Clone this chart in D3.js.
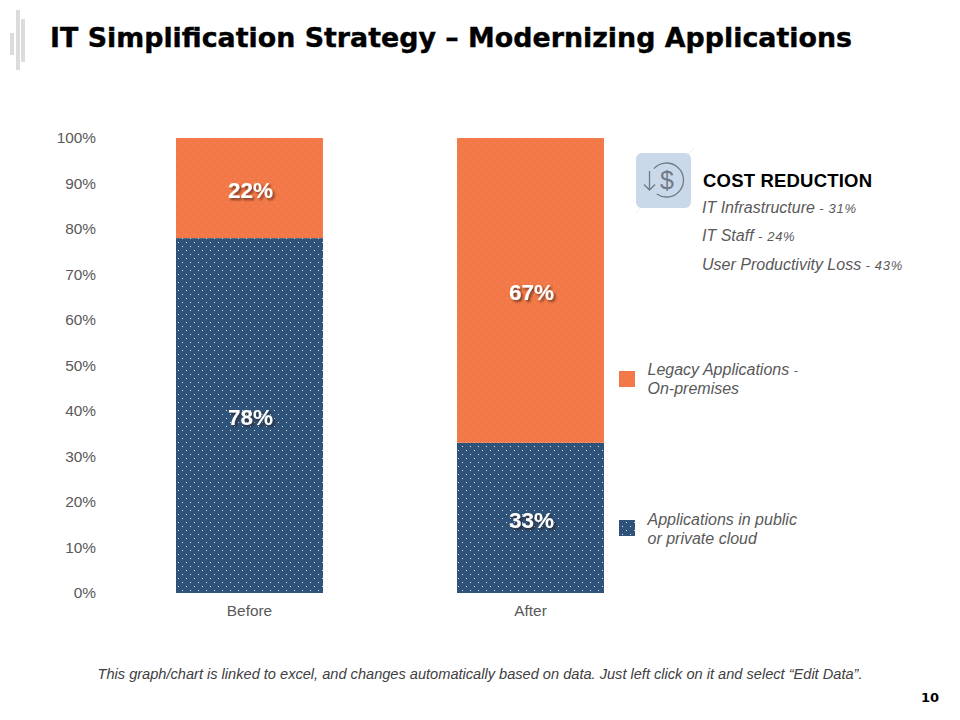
<!DOCTYPE html>
<html><head><meta charset="utf-8">
<script src="https://cdn.jsdelivr.net/npm/d3@7"></script>
<style>
html,body{margin:0;padding:0;background:#fff}
svg{display:block}
text{font-family:"Liberation Sans",Arial,sans-serif}
</style></head><body>
<svg id="c" width="960" height="720"></svg>
<script>
const titleText = "IT Simplification Strategy – Modernizing Applications";
const categories = ["Before","After"];
const cloudValues = [78,33];
const legacyValues = [22,67];
const yTicks = [0,10,20,30,40,50,60,70,80,90,100];
const legendLabels = [[["Legacy Applications ","- "],["On-premises",""]],[["Applications in public",""],["or private cloud",""]]];
const costHeading = "COST REDUCTION";
const costItems = [["IT Infrastructure"," - 31%"],["IT Staff"," - 24%"],["User Productivity Loss"," - 43%"]];
const footnote = "This graph/chart is linked to excel, and changes automatically based on data. Just left click on it and select “Edit Data”.";
const pageNumber = "10";

const ORANGE="#f27947", BLUE="#2e5278";
const svg=d3.select("#c");
const defs=svg.append("defs");
function pat(id,fill,op){
  const p=defs.append("pattern").attr("id",id).attr("width",8).attr("height",8).attr("patternUnits","userSpaceOnUse");
  p.append("rect").attr("width",8).attr("height",8).attr("fill",fill);
  [[2,2],[6,6]].forEach(c=>p.append("rect").attr("x",c[0]).attr("y",c[1]).attr("width",1).attr("height",1).attr("fill","#fff").attr("opacity",op));
}
pat("pBlue",BLUE,.85); pat("pOrange",ORANGE,.2);
const sh=defs.append("filter").attr("id","sh").attr("x","-20%").attr("y","-20%").attr("width","150%").attr("height","150%");
sh.append("feDropShadow").attr("dx",2).attr("dy",2).attr("stdDeviation",.8).attr("flood-color","#2a1408").attr("flood-opacity",.6);

// header decoration
[[10,33,4,22],[16,10,4,60],[21,19,4,43]].forEach(d=>svg.append("rect").attr("x",d[0]).attr("y",d[1]).attr("width",d[2]).attr("height",d[3]).attr("fill","#dcdcdc"));
svg.append("text").attr("x",50).attr("y",47).attr("font-size",27).attr("font-weight","bold").attr("fill","#000")
  .attr("stroke","#000").attr("stroke-width",.4)
  .style("font-family","'DejaVu Sans'").attr("textLength",802).attr("lengthAdjust","spacingAndGlyphs").text(titleText);

const x=d3.scaleBand().domain(categories).range([109,671]).paddingInner(.477).paddingOuter(.2385);
const y=d3.scaleLinear().domain([0,100]).range([593,138]);

const yAxis=d3.axisLeft(y).tickValues(yTicks).tickFormat(d=>d+"%").tickSize(0).tickPadding(0);
const gy=svg.append("g").attr("transform","translate(96,0)").call(yAxis);
const xAxis=d3.axisBottom(x).tickSize(0).tickPadding(0);
const gx=svg.append("g").attr("transform","translate(0,605)").call(xAxis);
[gy,gx].forEach(g=>{g.select(".domain").remove();
  g.selectAll("text").attr("font-size",15.4).attr("fill","#595959").style("font-family","'Liberation Sans'");});
gx.selectAll("text").attr("dy","0.71em");

const stack=categories.map((c,i)=>({c,cloud:cloudValues[i],legacy:legacyValues[i]}));
const bars=svg.append("g");
bars.selectAll(".b").data(stack).join("rect").attr("x",d=>x(d.c)).attr("width",x.bandwidth())
  .attr("y",d=>y(d.cloud)).attr("height",d=>y(0)-y(d.cloud)).attr("fill","url(#pBlue)");
bars.selectAll(".o").data(stack).join("rect").attr("x",d=>x(d.c)).attr("width",x.bandwidth())
  .attr("y",d=>y(d.cloud+d.legacy)).attr("height",d=>y(d.cloud)-y(d.cloud+d.legacy)).attr("fill","url(#pOrange)");
function lab(sel,val,base){
  sel.selectAll(null).data(stack).join("text").attr("x",d=>x(d.c)+x.bandwidth()/2+1)
   .attr("y",d=>y(base(d)+val(d)/2)+2).attr("dy","0.35em").attr("text-anchor","middle")
   .attr("font-size",22.5).attr("font-weight","bold").attr("fill","#fff").attr("filter","url(#sh)")
   .text(d=>val(d)+"%");
}
lab(svg.append("g"),d=>d.cloud,d=>0);
lab(svg.append("g"),d=>d.legacy,d=>d.cloud);

// legend
const lg=[{f:"url(#pOrange)",yr:371,t:legendLabels[0],ty:[375,394]},{f:"url(#pBlue)",yr:520,t:legendLabels[1],ty:[525,544]}];
lg.forEach(l=>{
  svg.append("rect").attr("x",619).attr("y",l.yr).attr("width",16).attr("height",16).attr("fill",l.f);
  l.t.forEach((s,i)=>{
    const t=svg.append("text").attr("x",647.5).attr("y",l.ty[i]).attr("font-size",16).attr("font-style","italic").attr("fill","#595959");
    t.append("tspan").text(s[0]);
    t.append("tspan").attr("font-size",12).text(s[1]);
  });
});

// icon
const ic=svg.append("g");
ic.append("line").attr("x1",636).attr("y1",213).attr("x2",694).attr("y2",148).attr("stroke","#ececec").attr("stroke-width",1);
ic.append("rect").attr("x",636).attr("y",153).attr("width",55).attr("height",55).attr("rx",6).attr("fill","#c9d9e9");
const st=ic.append("g").attr("fill","none").attr("stroke","#6f7b87").attr("stroke-width",1.3);
const ring=d3.path(); ring.arc(666.5,180,17,-0.84-Math.PI/2,3.75-Math.PI/2);
st.append("path").attr("d",ring.toString());
st.append("path").attr("d","M649.5 171V190M644 184.5L649.5 190L655 184.5");
ic.append("text").attr("x",667).attr("y",189).attr("text-anchor","middle").attr("font-size",25).attr("fill","#6f7b87").text("$");

svg.append("text").attr("x",703).attr("y",187).attr("font-size",18.5).attr("font-weight","bold").attr("fill","#000").attr("textLength",169).text(costHeading);
const cy=[213,241,270];
costItems.forEach((c,i)=>{
  const t=svg.append("text").attr("x",702).attr("y",cy[i]).attr("font-style","italic").attr("fill","#595959");
  t.append("tspan").attr("font-size",16).text(c[0]);
  t.append("tspan").attr("font-size",13).attr("letter-spacing",.7).text(c[1]);
});

svg.append("text").attr("x",480).attr("y",679).attr("text-anchor","middle").attr("font-size",14.6).attr("font-style","italic").attr("fill","#404040").text(footnote);
svg.append("text").attr("x",930).attr("y",702).attr("text-anchor","middle").attr("font-size",13).attr("font-weight","bold").attr("fill","#000").style("font-family","'DejaVu Sans'").text(pageNumber);
</script></body></html>
